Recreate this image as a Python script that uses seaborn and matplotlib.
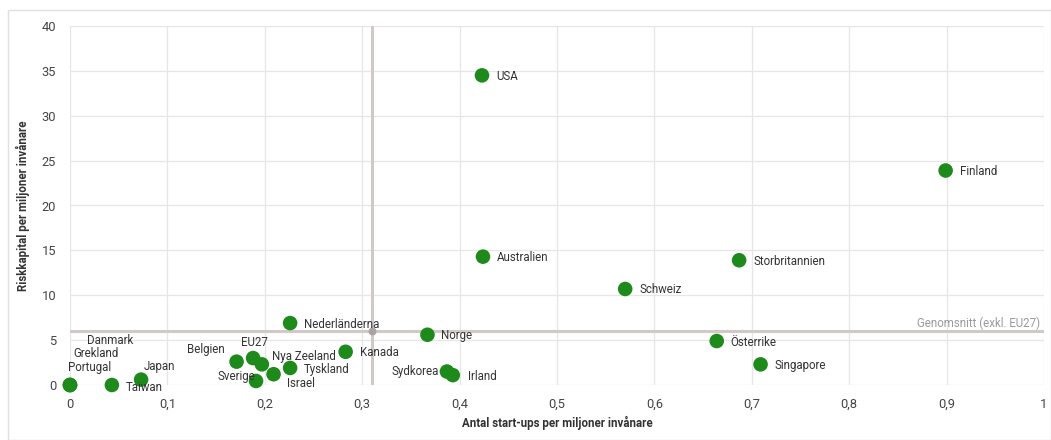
import numpy as np
import pandas as pd
import matplotlib.pyplot as plt
import seaborn as sns
from matplotlib.patches import Rectangle

sns.set_style("whitegrid")
plt.rcParams['font.family'] = ['Roboto', 'DejaVu Sans']

# --- Data ---
countries = ["USA", "Finland", "Australien", "Storbritannien", "Schweiz", "Nederländerna",
             "Norge", "Österrike", "Kanada", "EU27", "Belgien", "Nya Zeeland", "Singapore",
             "Tyskland", "Sydkorea", "Israel", "Irland", "Japan", "Sverige", "Taiwan",
             "Danmark", "Grekland", "Portugal"]
startups = [0.423, 0.899, 0.424, 0.687, 0.570, 0.226,
            0.367, 0.664, 0.283, 0.188, 0.171, 0.197, 0.709,
            0.226, 0.387, 0.209, 0.393, 0.073, 0.191, 0.043,
            0.0, 0.0, 0.0]
riskkapital = [34.5, 23.9, 14.3, 13.9, 10.7, 6.9,
               5.6, 4.9, 3.7, 3.0, 2.6, 2.3, 2.3,
               1.9, 1.5, 1.2, 1.1, 0.6, 0.45, 0.0,
               0.0, 0.0, 0.0]
avg_x = 0.31
avg_y = 6.0
avg_label = "Genomsnitt (exkl. EU27)"

x_ticks = np.arange(0, 1.01, 0.1)
y_ticks = np.arange(0, 41, 5)

# label offsets in pixels (dx, dy, ha)
label_pos = {
    "Danmark": (40, 45, "center"), "Grekland": (26, 32, "center"), "Portugal": (20, 18, "center"),
    "Taiwan": (14, -2, "left"), "Japan": (3, 13, "left"), "Belgien": (-12, 12, "right"),
    "EU27": (-12, 16, "left"), "Nya Zeeland": (10, 8, "left"), "Tyskland": (14, -2, "left"),
    "Sverige": (-1, 4, "right"), "Israel": (13, -9, "left"), "Sydkorea": (-8, 0, "right"),
    "Irland": (15, -1, "left"),
}

df = pd.DataFrame({"land": countries, "x": startups, "y": riskkapital})

fig = plt.figure(figsize=(10.51, 4.4), dpi=100)
ax = fig.add_axes([70 / 1051, 1 - 385 / 440, 974 / 1051, 359 / 440])

ax.axhline(avg_y, color="#d2c9c7", lw=2.2, zorder=1)
ax.axvline(avg_x, color="#d2c9c7", lw=2.2, zorder=1)
ax.scatter([avg_x], [avg_y], s=22, color="#aaa3a2", zorder=2)

sns.scatterplot(data=df, x="x", y="y", ax=ax, color="#1f8a1c", s=110,
                edgecolor="none", zorder=3, clip_on=False)

for _, r in df.iterrows():
    dx, dy, ha = label_pos.get(r["land"], (14, -1, "left"))
    ax.annotate(r["land"], (r["x"], r["y"]), xytext=(dx, dy), textcoords="offset pixels",
                ha=ha, va="center", fontsize=8.3, color="#333333", zorder=4,
                annotation_clip=False)

ax.text(0.996, avg_y + 0.9, avg_label, ha="right", va="center", fontsize=8.3,
        color="#9a9a9a")

ax.set_xlim(0, 1)
ax.set_ylim(0, 40)
ax.set_xticks(x_ticks)
ax.set_xticklabels([f"{v:g}".replace(".", ",") for v in np.round(x_ticks, 1)])
ax.set_yticks(y_ticks)
ax.set_yticklabels([str(v) for v in y_ticks])
ax.tick_params(axis="both", labelsize=9.3, colors="#444444", length=0)
ax.tick_params(axis="x", pad=9)
ax.tick_params(axis="y", pad=10)
ax.grid(True, color="#e6e6e6", lw=0.9)
for s in ax.spines.values():
    s.set_visible(False)

ax.set_xlabel("Antal start-ups per miljoner invånare", fontsize=8.3, fontweight="bold",
              color="#333333", labelpad=4)
ax.set_ylabel("Riskkapital per miljoner invånare", fontsize=8.3, fontweight="bold",
              color="#333333", labelpad=8)

fig.patches.append(Rectangle((8 / 1051, 0.0), 1 - 8 / 1051, 1 - 10 / 440,
                             transform=fig.transFigure, fill=False,
                             edgecolor="#e0e0e0", lw=1))

plt.savefig("out.png", dpi=100)
